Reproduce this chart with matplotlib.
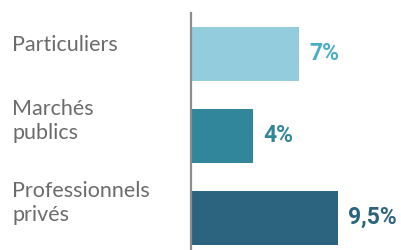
import matplotlib
matplotlib.use("Agg")
import matplotlib.pyplot as plt
import matplotlib.transforms as mtransforms

categories = ["Particuliers", "Marchés\npublics", "Professionnels\nprivés"]
values = [7, 4, 9.5]
value_labels = ["7%", "4%", "9,5%"]

bar_colors = ["#93CDDD", "#31869B", "#2C6480"]
label_colors = ["#4BACC6", "#31869B", "#2C6480"]

W, H = 401, 250
fig = plt.figure(figsize=(W / 100, H / 100), dpi=100)
fig.patch.set_facecolor("white")

# axes geometry (pixels from top-left)
ax_left_px, ax_top_px, ax_bottom_px = 191, 13, 259
ax = fig.add_axes([ax_left_px / W, (H - ax_bottom_px) / H,
                   (W - ax_left_px) / W, (ax_bottom_px - ax_top_px) / H])
ax.set_facecolor("none")

ypos = list(range(len(categories)))
ax.barh(ypos, values, height=0.67, color=bar_colors, edgecolor="none", zorder=2)
ax.set_ylim(len(categories) - 0.5, -0.5)
ax.set_xlim(0, (W - ax_left_px) / 15.43)

for s in ["top", "right", "bottom"]:
    ax.spines[s].set_visible(False)
ax.spines["left"].set_color("#8C8C8C")
ax.spines["left"].set_linewidth(1.6)
ax.spines["left"].set_zorder(3)
ax.set_xticks([])
ax.set_yticks([])

# value labels
for i, (v, lab, c) in enumerate(zip(values, value_labels, label_colors)):
    ax.annotate(lab, xy=(v, i), xytext=(7.5, 0.5), textcoords="offset points",
                ha="left", va="center", fontsize=16.5, fontweight="bold",
                fontstyle="normal", color=c, family=["Roboto", "DejaVu Sans"])

# category labels
trans = mtransforms.blended_transform_factory(fig.transFigure, ax.transData)
for i, cat in enumerate(categories):
    nlines = cat.count("\n") + 1
    off_px = 4 + 5.5 * nlines
    ax.annotate(cat, xy=(12 / W, i), xycoords=trans,
                xytext=(0, off_px * 0.72), textcoords="offset points",
                ha="left", va="center", fontsize=15.5, color="#6B6B6B",
                linespacing=1.3, family=["Lato", "DejaVu Sans"],
                annotation_clip=False)

fig.savefig("out.png", dpi=100, facecolor="white")
